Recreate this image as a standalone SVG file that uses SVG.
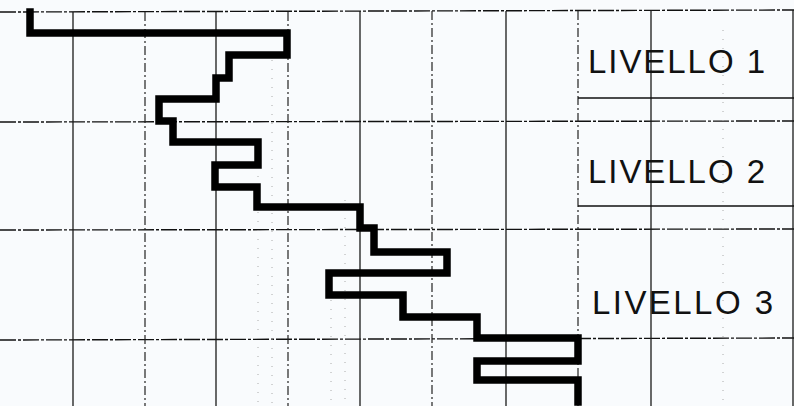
<svg xmlns="http://www.w3.org/2000/svg" width="794" height="406" viewBox="0 0 794 406">
  <defs>
    <style>
      .bg { fill: #f9fbfd; }
      .hline { stroke: #111; stroke-width: 1.4; stroke-dasharray: 16 2 3 2; fill: none; }
      .vsolid { stroke: #1a1a1a; stroke-width: 1.3; fill: none; }
      .vdash { stroke: #222; stroke-width: 1.2; stroke-dasharray: 9 3 2 3; fill: none; }
      .vfaint { stroke: #aaa; stroke-width: 1; stroke-dasharray: 1 8; fill: none; }
      .boxline { stroke: #111; stroke-width: 1.4; fill: none; }
      .step { stroke: #000; stroke-width: 7.5; fill: none; stroke-linejoin: miter; stroke-linecap: square; }
      .label { font-family: "Liberation Sans", Arial, sans-serif; font-size: 33px; fill: #111; }
    </style>
  </defs>
  <rect class="bg" x="0" y="0" width="794" height="406"/>

  <g id="grid">
    <line class="hline" x1="0" y1="12" x2="794" y2="10"/>
    <line class="hline" x1="0" y1="122" x2="794" y2="121"/>
    <line class="hline" x1="0" y1="230" x2="794" y2="229"/>
    <line class="hline" x1="0" y1="340" x2="794" y2="338"/>

    <line class="vsolid" x1="73" y1="12" x2="73" y2="406"/>
    <line class="vdash" x1="145" y1="12" x2="145" y2="406"/>
    <line class="vsolid" x1="216" y1="12" x2="216" y2="406"/>
    <line class="vdash" x1="288" y1="12" x2="288" y2="406"/>
    <line class="vsolid" x1="360" y1="11" x2="360" y2="406"/>
    <line class="vdash" x1="432" y1="11" x2="432" y2="406"/>
    <line class="vsolid" x1="506" y1="11" x2="506" y2="406"/>
    <line class="vdash" x1="578" y1="11" x2="578" y2="406"/>
    <line class="vsolid" x1="651" y1="10" x2="651" y2="406"/>
    <line class="vfaint" x1="723" y1="30" x2="723" y2="406"/>
    <line class="vsolid" x1="793" y1="10" x2="793" y2="406"/>

    <line class="vfaint" x1="258" y1="140" x2="258" y2="406"/>
    <line class="vfaint" x1="272" y1="60" x2="272" y2="406"/>
    <line class="vfaint" x1="331" y1="300" x2="331" y2="406"/>
    <line class="vfaint" x1="345" y1="200" x2="345" y2="406"/>

    <line class="boxline" x1="578" y1="98" x2="794" y2="98"/>
    <line class="boxline" x1="578" y1="206" x2="794" y2="206"/>
  </g>

  <g id="connectors">
    <path class="step" d="M30,12 V33 H287 V55 H229 V78 H216 V99 H159 V121 H173 V142 H258 V165 H215 V187 H257 V207 H360 V228 H374 V252 H447 V273 H329 V295 H403 V317 H477 V338 H578 V361 H477 V380 H578 V402"/>
  </g>

  <g id="livello1">
    <text class="label" x="588" y="73" textLength="177" lengthAdjust="spacing">LIVELLO 1</text>
  </g>
  <g id="livello2">
    <text class="label" x="588" y="183" textLength="177" lengthAdjust="spacing">LIVELLO 2</text>
  </g>
  <g id="livello3">
    <text class="label" x="592" y="314" textLength="181" lengthAdjust="spacing">LIVELLO 3</text>
  </g>
</svg>
